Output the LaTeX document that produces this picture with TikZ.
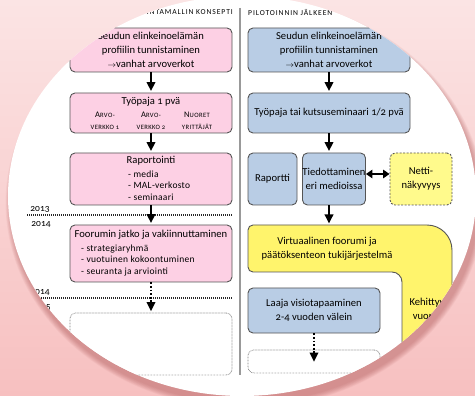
\documentclass[tikz,border=0pt]{standalone}
\usepackage{fontspec}
\setmainfont{Carlito}[Numbers=OldStyle]
\usetikzlibrary{arrows.meta}
\definecolor{pinkfill}{RGB}{253,208,228}
\definecolor{bluefill}{RGB}{185,205,229}
\definecolor{yellowfill}{RGB}{255,244,108}
\definecolor{nettifill}{RGB}{255,250,140}
\definecolor{edge}{RGB}{85,85,85}
\definecolor{bgtop}{RGB}{251,228,228}
\definecolor{bgbot}{RGB}{247,192,192}
\definecolor{shadowc}{RGB}{170,80,80}
\newcommand{\fsc}[2]{{\fontsize{8.5}{8.5}\selectfont\addfontfeatures{LetterSpace=6}#1}{\fontsize{6.6}{6.6}\selectfont\addfontfeatures{LetterSpace=6}#2}}
\tikzset{
  box/.style={draw=edge, line width=0.9pt, rounded corners=5pt, inner sep=0pt, align=center, font=\fontsize{10.6}{14}\selectfont},
  pinkbox/.style={box, fill=pinkfill, minimum width=162pt},
  bluebox/.style={box, fill=bluefill},
  nettibox/.style={box, fill=nettifill, dash pattern=on 2pt off 1.5pt},
  dotbox/.style={draw=gray, line width=0.7pt, dash pattern=on 0.7pt off 0.8pt, rounded corners=6pt, fill=white, inner sep=0pt},
  yellowL/.style={draw=edge, line width=0.9pt, fill=yellowfill},
  maintext/.style={inner sep=0pt, align=center, font=\fontsize{10.6}{14}\selectfont},
  listtext/.style={inner sep=0pt, align=left, font=\fontsize{9.5}{11.5}\selectfont\addfontfeatures{LetterSpace=3}},
  sctext/.style={inner sep=0pt, align=center, font=\fontsize{6.6}{12}\selectfont},
  titletext/.style={inner sep=0pt, font=\fontsize{7.6}{9}\selectfont\addfontfeatures{LetterSpace=12}},
  yeartext/.style={inner sep=0pt, font=\fontsize{9.5}{10}\selectfont},
  arr/.style={line width=1.8pt, -{Triangle[width=8.5pt,length=9pt]}, shorten >=1.5pt},
  dotarr/.style={arr, dash pattern=on 1.8pt off 1.8pt},
  dblarr/.style={line width=1.8pt, {Triangle[width=8.5pt,length=6.5pt]}-{Triangle[width=8.5pt,length=6.5pt]}},
  yearline/.style={line width=1.1pt, dash pattern=on 1pt off 1pt, black!85},
  divider/.style={line width=1.3pt, gray!80}
}
\begin{document}
\begin{tikzpicture}[x=1pt, y=-1pt]
\useasboundingbox (0,0) rectangle (475,396);
\shade[top color=bgtop, bottom color=bgbot] (0,0) rectangle (475,396);
% shadow of the round sheet
\foreach \i in {0,...,9}
  \fill[shadowc, opacity=0.05] (245,203) ellipse [x radius={234pt+\i*0.6pt}, y radius={200pt+\i*0.6pt}];
\fill[white] (242,196) ellipse [x radius=234pt, y radius=200pt];
\begin{scope}
\clip (242,196) ellipse [x radius=234pt, y radius=200pt];
% titles and divider
\node[titletext, anchor=east] (ltitle) at (233,12) {TOIMINTAMALLIN KONSEPTI};
\node[titletext, anchor=west] (rtitle) at (248,12) {PILOTOINNIN JÄLKEEN};
\draw[divider] (240,8) -- (240,375);
% year separators
\draw[yearline] (27,215) -- (232,215);
\draw[yearline] (27,298) -- (232,298);
\node[yeartext] (y13) at (40,209) {2013};
\node[yeartext] (y14) at (41,224) {2014};
\node[yeartext] (y14b) at (40,292) {2014};
\node[yeartext] (y15) at (41,307) {2015};
% left column
\node[pinkbox, minimum height=44pt] (L1) at (151,50) {Seudun elinkeinoelämän\\profiilin tunnistaminen\\{\fontsize{8}{8}\selectfont$\rightarrow$}vanhat arvoverkot};
\node[pinkbox, minimum height=40pt] (L2) at (151,113) {};
\node[maintext] (L2t) at (151,102) {Työpaja 1 pvä};
\node[sctext] (L2a) at (105,121) {\fsc{A}{RVO-}\\\fsc{}{VERKKO 1}};
\node[sctext] (L2b) at (151,121) {\fsc{A}{RVO-}\\\fsc{}{VERKKO 2}};
\node[sctext] (L2c) at (197,121) {\fsc{N}{UORET}\\\fsc{}{YRITTÄJÄT}};
\node[pinkbox, minimum height=52pt] (L3) at (151,179) {};
\node[maintext] (L3t) at (151,161) {Raportointi};
\node[listtext, anchor=west] (L3l) at (128,185.5) {- media\\- MAL-verkosto\\- seminaari};
\node[pinkbox, minimum height=57pt] (L4) at (151,253.5) {};
\node[maintext] (L4t) at (151,235) {Foorumin jatko ja vakiinnuttaminen};
\node[listtext, anchor=west] (L4l) at (81,260.5) {- strategiaryhmä\\- vuotuinen kokoontuminen\\- seuranta ja arviointi};
\node[dotbox, minimum width=162pt, minimum height=62pt] (L5) at (151,344) {};
\draw[arr] (L1) -- (L2);
\draw[arr] (L2) -- (L3);
\draw[arr] (L3) -- (L4);
\draw[dotarr] (L4) -- (L5);
% right column
\node[bluebox, minimum width=162pt, minimum height=44pt] (R1) at (329,50) {Seudun elinkeinoelämän\\profiilin tunnistaminen\\{\fontsize{8}{8}\selectfont$\rightarrow$}vanhat arvoverkot};
\node[bluebox, minimum width=162pt, minimum height=40pt] (R2) at (329,113) {Työpaja tai kutsuseminaari 1/2 pvä};
\node[bluebox, minimum width=49pt, minimum height=52pt] (R3) at (272.5,179) {Raportti};
\node[bluebox, minimum width=62pt, minimum height=52pt] (R4) at (334,179) {Tiedottaminen\\eri medioissa};
\node[nettibox, minimum width=62pt, minimum height=52pt] (R5) at (421,179) {Netti-\\näkyvyys};
\draw[yellowL] (253,225) -- (427,225) .. controls (440.8,225) and (452,236.2) .. (452,250) -- (452,420) -- (402,420) -- (402,282) .. controls (402,276.5) and (397.5,272) .. (392,272) -- (253,272) .. controls (250.2,272) and (248,269.8) .. (248,267) -- (248,230) .. controls (248,227.2) and (250.2,225) .. (253,225) -- cycle;
\coordinate (Ytop) at (329,225);
\node[maintext] (Yt) at (327,249) {Virtuaalinen foorumi ja\\päätöksenteon tukijärjestelmä};
\node[maintext] (Ya) at (427,309) {Kehittyy\\vuoro-};
\node[bluebox, minimum width=132pt, minimum height=45pt] (R6) at (314,310.5) {Laaja visiotapaaminen\\2-4 vuoden välein};
\node[dotbox, minimum width=132pt, minimum height=23pt] (R7) at (314,361.5) {};
\draw[arr] (R1) -- (R2);
\draw[arr] (R2.south) -- (R2.south |- R4.north);
\draw[dblarr] ([yshift=5pt]R4.east) -- ([yshift=5pt]R5.west);
\draw[arr] (R2.south |- R4.south) -- (Ytop);
\draw[dotarr, shorten >=-12pt] (R6) -- (R7);
\end{scope}
\end{tikzpicture}
\end{document}
